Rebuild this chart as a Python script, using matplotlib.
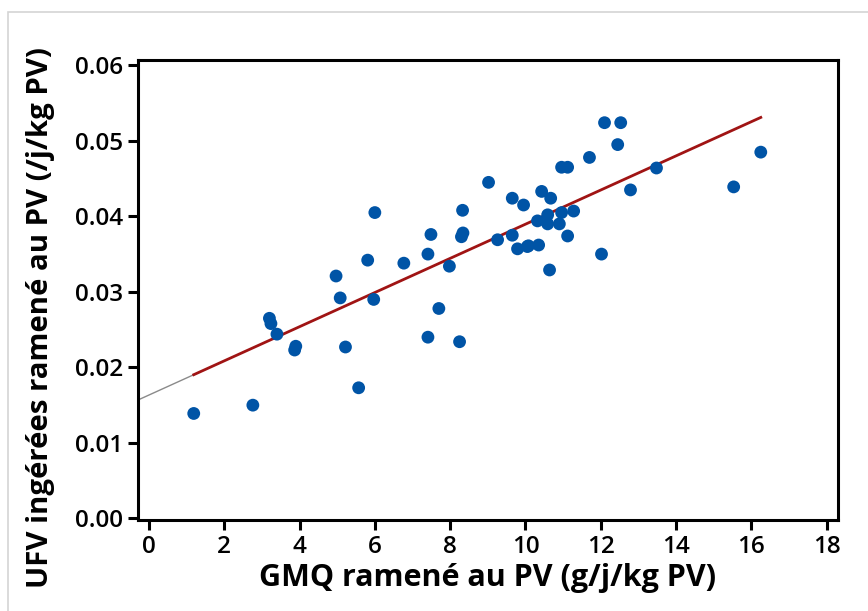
import numpy as np
import matplotlib.pyplot as plt
from matplotlib.patches import Rectangle

# GMQ ramené au PV (g/j/kg PV)
gmq = [1.19, 2.76, 3.20, 3.24, 3.40, 3.90, 3.87, 4.97, 5.08, 5.22,
       5.57, 5.81, 5.97, 6.00, 6.77, 7.41, 7.41, 7.49, 7.70, 7.98,
       8.25, 8.30, 8.34, 8.33, 9.02, 9.26, 9.65, 9.65, 9.79, 9.95,
       10.05, 10.08, 10.32, 10.35, 10.43, 10.59, 10.59, 10.64, 10.67, 10.90,
       10.96, 10.96, 11.12, 11.12, 11.28, 11.70, 12.02, 12.10, 12.45, 12.53,
       12.79, 13.48, 15.53, 16.25]
# UFV ingérées ramené au PV (/j/kg PV)
ufv = [0.0139, 0.0150, 0.0265, 0.0258, 0.0244, 0.0228, 0.0223, 0.0321, 0.0292, 0.0227,
       0.0173, 0.0342, 0.0290, 0.0405, 0.0338, 0.0350, 0.0240, 0.0376, 0.0278, 0.0334,
       0.0234, 0.0373, 0.0378, 0.0408, 0.0445, 0.0369, 0.0424, 0.0375, 0.0357, 0.0415,
       0.0360, 0.0361, 0.0394, 0.0362, 0.0433, 0.0402, 0.0390, 0.0329, 0.0424, 0.0390,
       0.0405, 0.0465, 0.0465, 0.0374, 0.0407, 0.0478, 0.0350, 0.0524, 0.0495, 0.0524,
       0.0435, 0.0464, 0.0439, 0.0485]

# droite de régression
pente = 0.002262
ordonnee = 0.01634

plt.rcParams['font.family'] = ['Open Sans', 'DejaVu Sans']

fig = plt.figure(figsize=(8.68, 6.11), dpi=100)
ax = fig.add_axes([0.159, 0.149, 0.8064, 0.7528])

# cadre gris autour
fig.patches.append(Rectangle((0.009, -0.01), 1.1, 0.99, transform=fig.transFigure,
                             fill=False, edgecolor='#d4d4d4', linewidth=1.2))

xmin, xmax = -0.29, 18.3
x0, x1 = min(gmq), max(gmq)
ax.plot([xmin, x0], [ordonnee + pente * xmin, ordonnee + pente * x0],
        color='#8a8a8a', linewidth=1.0, zorder=2)
ax.plot([x0, x1], [ordonnee + pente * x0, ordonnee + pente * x1],
        color='#a01414', linewidth=2.0, zorder=3)
ax.scatter(gmq, ufv, s=85, color='#0054a6', edgecolors='none', zorder=4)

ax.set_xlim(xmin, xmax)
ax.set_ylim(-0.0002, 0.0607)
ax.set_xticks(np.arange(0, 19, 2))
ax.set_yticks(np.arange(0, 0.061, 0.01))
ax.set_yticklabels([f'{v:.2f}' for v in np.arange(0, 0.061, 0.01)])

for s in ax.spines.values():
    s.set_linewidth(2.2)
ax.tick_params(direction='out', length=7, width=2.2, labelsize=17.5, pad=4)
for lab in ax.get_xticklabels() + ax.get_yticklabels():
    lab.set_fontweight('semibold')

ax.set_xlabel('GMQ ramené au PV (g/j/kg PV)', fontsize=22, fontweight='bold', labelpad=3)
ax.set_ylabel('UFV ingérées ramené au PV (/j/kg PV)', fontsize=21.2, fontweight='bold')
ax.yaxis.set_label_coords(-0.118, 0.441)

fig.savefig('out.png', dpi=100)
